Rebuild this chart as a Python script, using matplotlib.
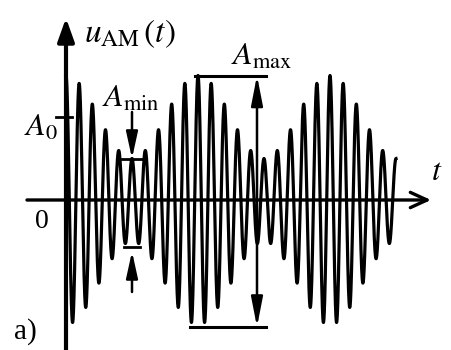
import matplotlib.pyplot as plt
import numpy as np

plt.rcParams['mathtext.fontset'] = 'stix'
plt.rcParams['font.family'] = 'Liberation Serif'

# AM signal, values
A0 = 1.0        # carrier amplitude A_0
m = 0.5         # modulation depth -> A_max = 1.5, A_min = 0.5
f_mod = 1.0     # envelope frequency
f_car = 10.0    # carrier frequency (10 carrier cycles per envelope period)
t_end = 2.5     # 2.5 envelope periods are drawn

Amax = A0*(1+m)
Amin = A0*(1-m)

t = np.linspace(0, t_end, 6000)
u = A0*(1+m*np.cos(2*np.pi*f_mod*t))*np.cos(2*np.pi*f_car*t)

# pixel layout helpers (origin of the axes at pixel 66,200)
X0, SX = 66, 132.0
Y0, SY = 200, 83.0
def px(x):
    return (x-X0)/SX
def py(y):
    return (Y0-y)/SY

fig = plt.figure(figsize=(4.51, 3.5), dpi=100)
ax = fig.add_axes([0, 0, 1, 1])
ax.set_xlim(px(0), px(451))
ax.set_ylim(py(350), py(0))
ax.axis('off')

ax.plot(t, u, color='k', lw=2.3, zorder=3)

# axes with arrows
ax.annotate('', xy=(0, py(18)), xytext=(0, py(352)),
            arrowprops=dict(arrowstyle='-|>,head_length=1.4,head_width=0.5',
                            lw=3, color='k', shrinkA=0, shrinkB=0))
ax.annotate('', xy=(px(431), 0), xytext=(px(27), 0),
            arrowprops=dict(arrowstyle='->,head_length=1.2,head_width=0.55',
                            lw=2.4, color='k', shrinkA=0, shrinkB=0))

# A0 tick
ax.plot([px(56), px(72)], [A0, A0], color='k', lw=2)

# A_min markers
tm = 0.5
ax.plot([tm-0.075, tm+0.075], [Amin, Amin], color='k', lw=2, zorder=4)
ax.annotate('', xy=(tm, Amin), xytext=(tm, py(112)),
            arrowprops=dict(arrowstyle='-|>,head_length=1.6,head_width=0.35',
                            lw=1.8, color='k', shrinkA=0, shrinkB=0))
ax.plot([tm-0.057, tm+0.057], [-Amin-0.07, -Amin-0.07], color='k', lw=2, zorder=4)
ax.annotate('', xy=(tm, -Amin-0.12), xytext=(tm, py(292)),
            arrowprops=dict(arrowstyle='-|>,head_length=1.6,head_width=0.35',
                            lw=1.8, color='k', shrinkA=0, shrinkB=0))

# A_max markers
ax.plot([px(195), px(266)], [Amax, Amax], color='k', lw=2.2)
ax.plot([px(190), px(266)], [-Amax-0.03, -Amax-0.03], color='k', lw=2.2)
ax.annotate('', xy=(px(257), Amax), xytext=(px(257), -Amax-0.03),
            arrowprops=dict(arrowstyle='<|-|>,head_length=1.8,head_width=0.35',
                            lw=1.8, color='k', shrinkA=0, shrinkB=0))

# labels
ax.text(px(84), py(34), r'$u_{\mathrm{AM}}\,(t)$', fontsize=24, ha='left', va='center')
ax.text(px(437), py(172), r'$t$', fontsize=23, ha='center', va='center')
ax.text(px(42), py(222), '0', fontsize=20, ha='center', va='center')
ax.text(px(41), py(128), r'$A_0$', fontsize=23, ha='center', va='center')
ax.text(px(131), py(99), r'$A_{\mathrm{min}}$', fontsize=23, ha='center', va='center')
ax.text(px(262), py(57), r'$A_{\mathrm{max}}$', fontsize=23, ha='center', va='center')
ax.text(px(25), py(332), 'a)', fontsize=21, ha='center', va='center')

fig.savefig('out.png', dpi=100)
